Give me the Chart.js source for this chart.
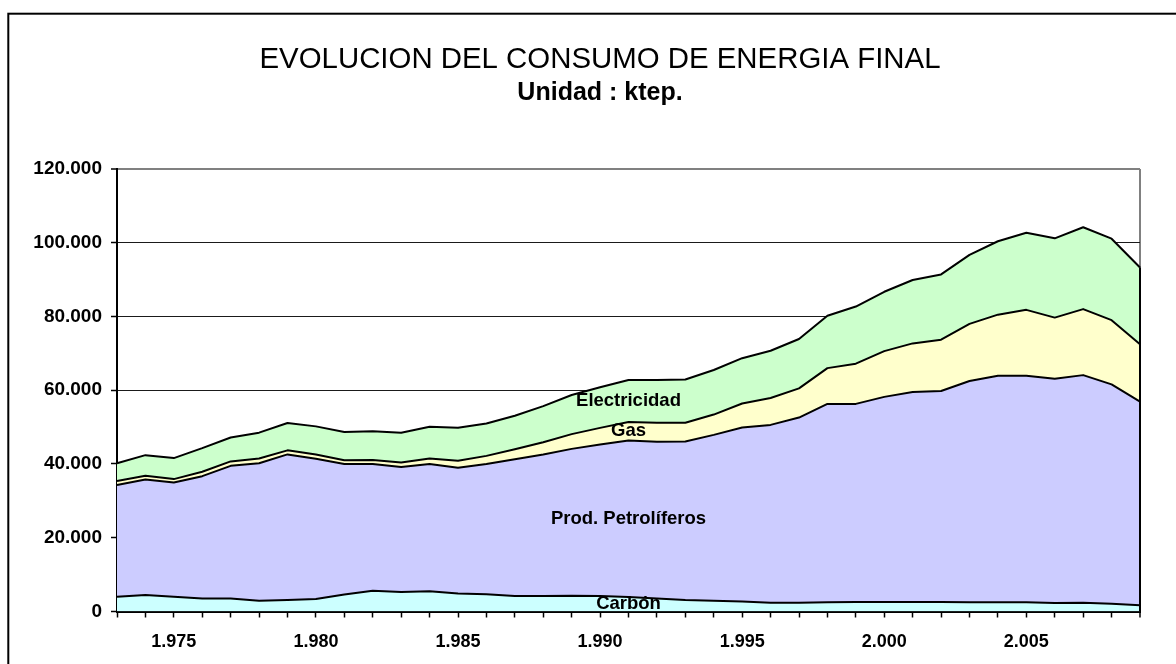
<!DOCTYPE html>
<html>
<head>
<meta charset="utf-8">
<script src="https://cdn.jsdelivr.net/npm/chart.js@4/dist/chart.umd.min.js"></script>
<style>
html,body{margin:0;padding:0;background:#fff;}
#wrap{position:relative;width:1176px;height:664px;overflow:hidden;}
canvas{display:block;}
</style>
</head>
<body>
<div id="wrap"><canvas id="c" width="1176" height="664"></canvas></div>
<script>
// ---- Data (ktep) ----
const years = [1973,1974,1975,1976,1977,1978,1979,1980,1981,1982,1983,1984,
               1985,1986,1987,1988,1989,1990,1991,1992,1993,1994,1995,1996,
               1997,1998,1999,2000,2001,2002,2003,2004,2005,2006,2007,2008,2009];
const xTickLabels = {1975:'1.975',1980:'1.980',1985:'1.985',1990:'1.990',1995:'1.995',2000:'2.000',2005:'2.005'};
const carbon = [4000,4500,4000,3500,3500,2900,3100,3400,4600,5600,5300,5500,
                4900,4700,4200,4200,4300,4200,3900,3500,3100,2900,2700,2400,
                2400,2500,2600,2600,2600,2600,2500,2500,2500,2300,2400,2100,1700];
const petroliferos = [30300,31300,31000,33200,36000,37300,39500,38000,35400,34400,33900,34500,
                      34100,35300,37100,38400,39800,41100,42500,42500,43000,45000,47200,48200,
                      50200,53800,53700,55600,56900,57200,60000,61400,61400,60800,61700,59500,55200];
const gas = [1100,1000,900,1200,1200,1300,1100,1200,1000,1100,1200,1500,
             1900,2200,2700,3300,4000,4500,5000,5200,5100,5500,6500,7300,
             7900,9700,10900,12400,13200,13900,15500,16600,17900,16600,17900,17400,15600];
const electricidad = [4800,5600,5700,6400,6500,7000,7400,7600,7700,7800,8100,8600,
                      8900,8800,9100,9800,10600,11000,11400,11600,11700,12100,12300,12800,
                      13400,14200,15500,16100,17200,17700,18700,19900,20900,21500,22200,22100,20800];
const seriesNames = ['Carbón','Prod. Petrolíferos','Gas','Electricidad'];
const seriesColors = ['#CCFFFF','#CCCCFF','#FFFFCC','#CCFFCC'];
const yMin = 0, yMax = 120000, yStep = 20000;
const labelYear = 1991;
const titleText = 'EVOLUCION DEL CONSUMO DE ENERGIA FINAL';
const subtitleText = 'Unidad : ktep.';

const FONT = "'Liberation Sans', Arial, sans-serif";

function fmtThousands(v){
  return String(v).replace(/\B(?=(\d{3})+(?!\d))/g,'.');
}

const framePlugin = {
  id:'frame',
  beforeDraw(chart){
    const ctx = chart.ctx;
    ctx.save();
    ctx.fillStyle = '#fff';
    ctx.fillRect(0,0,chart.width,chart.height);
    ctx.strokeStyle = '#000';
    ctx.lineWidth = 2;
    ctx.strokeRect(8.3, 13.7, chart.width + 50, chart.height + 50);
    ctx.restore();
  }
};

const edgeAndLabelsPlugin = {
  id:'edgeLabels',
  afterDatasetsDraw(chart){
    const ctx = chart.ctx;
    const xs = chart.scales.x, ys = chart.scales.y;
    const last = years.length - 1;
    const n = chart.data.datasets.length;
    const topMeta = chart.getDatasetMeta(n-1);
    ctx.save();
    ctx.strokeStyle = '#000';
    ctx.lineWidth = 2;
    ctx.beginPath();
    const xl = xs.getPixelForValue(last);
    ctx.moveTo(xl, ys.getPixelForValue(0));
    ctx.lineTo(xl, topMeta.data[last].y);
    ctx.stroke();
    const idx = years.indexOf(labelYear);
    ctx.fillStyle = '#000';
    ctx.font = 'bold 18.5px ' + FONT;
    ctx.textAlign = 'center';
    ctx.textBaseline = 'middle';
    for (let i = 0; i < n; i++){
      const p = chart.getDatasetMeta(i).data[idx];
      const below = i === 0 ? ys.getPixelForValue(0) : chart.getDatasetMeta(i-1).data[idx].y;
      ctx.fillText(chart.data.datasets[i].label, p.x, (p.y + below)/2);
    }
    ctx.restore();
  }
};

const seriesData = [carbon, petroliferos, gas, electricidad];

new Chart(document.getElementById('c'), {
  type:'line',
  data:{
    labels: years.map(String),
    datasets: seriesData.map((d,i)=>({
      label: seriesNames[i],
      data: d,
      backgroundColor: seriesColors[i],
      borderColor: '#000',
      borderWidth: 2,
      fill: i === 0 ? 'origin' : '-1',
      pointRadius: 0,
      tension: 0,
      borderJoinStyle: 'round'
    }))
  },
  options:{
    responsive:false,
    devicePixelRatio:1,
    animation:false,
    layout:{padding:{left:24,right:0,top:0,bottom:0}},
    plugins:{
      legend:{display:false},
      tooltip:{enabled:false},
      title:{
        display:true,
        text:titleText,
        color:'#000',
        font:{family:FONT,size:29.4,weight:'normal',lineHeight:1.2},
        padding:{top:42,bottom:0}
      },
      subtitle:{
        display:true,
        text:subtitleText,
        color:'#000',
        font:{family:FONT,size:25,weight:'bold',lineHeight:1.2},
        padding:{top:1,bottom:60.7}
      }
    },
    scales:{
      x:{
        type:'category',
        offset:false,
        grid:{
          display:true,
          drawOnChartArea:true,
          color:(c)=> (c.index === years.length-1 ? '#808080' : 'rgba(0,0,0,0)'),
          lineWidth:(c)=> (c.index === years.length-1 ? 2 : 1),
          tickColor:'#000',
          tickWidth:1.5,
          tickLength:6
        },
        border:{display:true,color:'#000',width:2},
        ticks:{
          autoSkip:false,
          maxRotation:0,
          minRotation:0,
          padding:14,
          color:'#000',
          font:{family:FONT,size:18,weight:'bold'},
          callback:(v,i)=> xTickLabels[years[i]] || ''
        },
        afterFit:(s)=>{ s.height = 52.5; }
      },
      y:{
        stacked:true,
        min:yMin,
        max:yMax,
        grid:{
          color:(c)=> (c.tick && c.tick.value === yMax ? '#808080' : '#1a1a1a'),
          lineWidth:(c)=> (c.tick && c.tick.value === yMax ? 2 : 1),
          tickColor:'#000',
          tickWidth:1.5,
          tickLength:6
        },
        border:{display:true,color:'#000',width:2},
        ticks:{
          stepSize:yStep,
          padding:9,
          color:'#000',
          font:{family:FONT,size:19,weight:'bold'},
          callback:(v)=> fmtThousands(v)
        },
        afterFit:(s)=>{ s.width = 93; }
      },
      rightSpace:{
        position:'right',
        display:true,
        grid:{display:false,drawTicks:false},
        border:{display:false},
        ticks:{display:false},
        afterFit:(s)=>{ s.width = 36; }
      }
    }
  },
  plugins:[framePlugin, edgeAndLabelsPlugin]
});
</script>
</body>
</html>
